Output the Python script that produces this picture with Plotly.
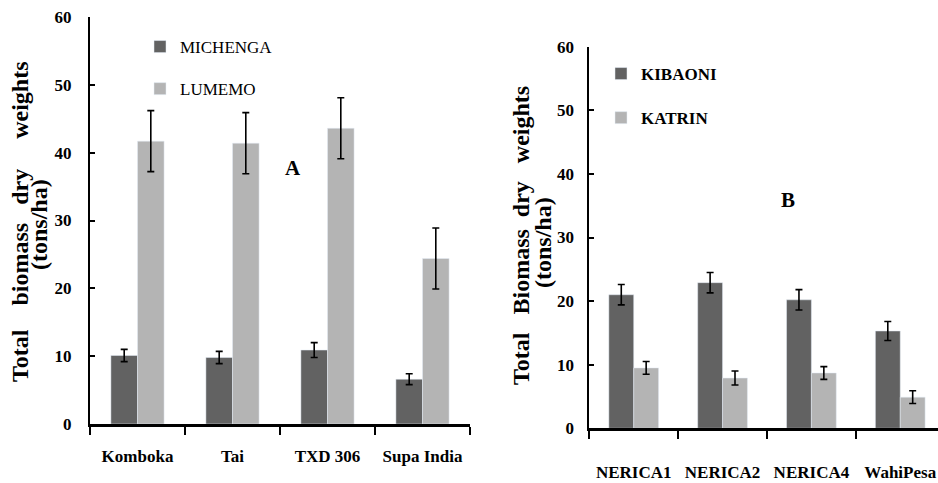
import plotly.graph_objects as go

# ---- data ----
cats_a = ["Komboka", "Tai", "TXD 306", "Supa India"]
michenga = [10.1, 9.8, 10.9, 6.6]
michenga_err = [0.9, 0.9, 1.1, 0.8]
lumemo = [41.7, 41.4, 43.6, 24.4]
lumemo_err = [4.5, 4.5, 4.5, 4.5]

cats_b = ["NERICA1", "NERICA2", "NERICA4", "WahiPesa"]
kibaoni = [21.0, 22.9, 20.2, 15.3]
kibaoni_err = [1.6, 1.6, 1.6, 1.5]
katrin = [9.5, 7.9, 8.7, 4.9]
katrin_err = [1.0, 1.1, 1.0, 1.0]

y_ticks = [0, 10, 20, 30, 40, 50, 60]

DARK = "#626262"
LIGHT = "#b4b4b4"
SERIF = "Liberation Serif"

def err(vals):
    return dict(type="data", array=vals, visible=True, color="black", thickness=1.6, width=3.5)

fig = go.Figure()
fig.add_trace(go.Bar(x=cats_a, y=michenga, name="MICHENGA", marker_color=DARK,
                     error_y=err(michenga_err), xaxis="x", yaxis="y",
                     legend="legend", legendgroup="a1"))
fig.add_trace(go.Bar(x=cats_a, y=lumemo, name="LUMEMO", marker_color=LIGHT,
                     error_y=err(lumemo_err), xaxis="x", yaxis="y",
                     legend="legend", legendgroup="a2"))
fig.add_trace(go.Bar(x=cats_b, y=kibaoni, name="KIBAONI", marker_color=DARK,
                     error_y=err(kibaoni_err), xaxis="x2", yaxis="y2",
                     legend="legend2", legendgroup="b1"))
fig.add_trace(go.Bar(x=cats_b, y=katrin, name="KATRIN", marker_color=LIGHT,
                     error_y=err(katrin_err), xaxis="x2", yaxis="y2",
                     legend="legend2", legendgroup="b2"))

tickfont = dict(family=SERIF, size=17, color="black", weight="bold")

def xax(domain, anchor, rng, standoff):
    return dict(domain=domain, anchor=anchor, type="category", range=rng,
                showline=True, linewidth=3, linecolor="black",
                ticks="outside", tickson="boundaries", ticklen=8, tickwidth=2,
                tickcolor="black", tickfont=tickfont, ticklabelstandoff=standoff,
                ticklabeloverflow="allow",
                showgrid=False, zeroline=False, fixedrange=True, automargin=False)

def yax(domain, anchor, standoff):
    return dict(domain=domain, anchor=anchor, range=[0, 60], tickvals=y_ticks,
                showline=True, linewidth=2, linecolor="black",
                ticks="inside", ticklen=5, tickwidth=2, tickcolor="black",
                tickfont=tickfont, ticklabelstandoff=standoff,
                ticklabeloverflow="allow",
                showgrid=False, zeroline=False, fixedrange=True, automargin=False)

W, H = 938, 483

def fx(px):
    return px / W

def fy(py):
    return 1 - py / H

fig.update_layout(
    width=W, height=H,
    margin=dict(l=0, r=0, t=0, b=0, autoexpand=False),
    paper_bgcolor="white", plot_bgcolor="white",
    barmode="group", bargap=0.44, bargroupgap=0,
    xaxis=xax([fx(90), fx(470)], "y", [-0.5, 3.5], 15),
    yaxis=yax([fy(424), fy(17)], "x", 13),
    xaxis2=xax([fx(589.3), 1.0], "y2", [-0.5, 3.425], 26),
    yaxis2=yax([fy(428.3), fy(46.7)], "x2", 10),
    legend=dict(x=fx(140), y=fy(29), xanchor="left", yanchor="top",
                bgcolor="rgba(0,0,0,0)", tracegroupgap=17,
                font=dict(family=SERIF, size=17, color="black")),
    legend2=dict(x=fx(601), y=fy(56), xanchor="left", yanchor="top",
                 bgcolor="rgba(0,0,0,0)", tracegroupgap=19,
                 font=dict(family=SERIF, size=17, color="black", weight="bold")),
    showlegend=True,
)

title_font = dict(family=SERIF, size=24, color="black", weight="bold")
ann = [
    dict(text="Total    biomass   dry     weights", x=fx(20), y=fy(222), textangle=-90),
    dict(text="(tons/ha)", x=fx(39), y=fy(225), textangle=-90),
    dict(text="Total   Biomass  dry   weights", x=fx(521), y=fy(236), textangle=-90),
    dict(text="(tons/ha)", x=fx(543), y=fy(243), textangle=-90),
]
for a in ann:
    fig.add_annotation(xref="paper", yref="paper", showarrow=False,
                       xanchor="center", yanchor="middle", font=title_font, **a)

for txt, px, py in [("A", 293, 168), ("B", 788, 200)]:
    fig.add_annotation(text=txt, xref="paper", yref="paper", x=fx(px), y=fy(py),
                       showarrow=False, xanchor="center", yanchor="middle",
                       font=dict(family=SERIF, size=21, color="black", weight="bold"))

# remove the default 8px page margin so the figure fills the window exactly
fig.write_html("out.html", config={"displayModeBar": False},
               post_script="document.body.style.margin='0px';")
